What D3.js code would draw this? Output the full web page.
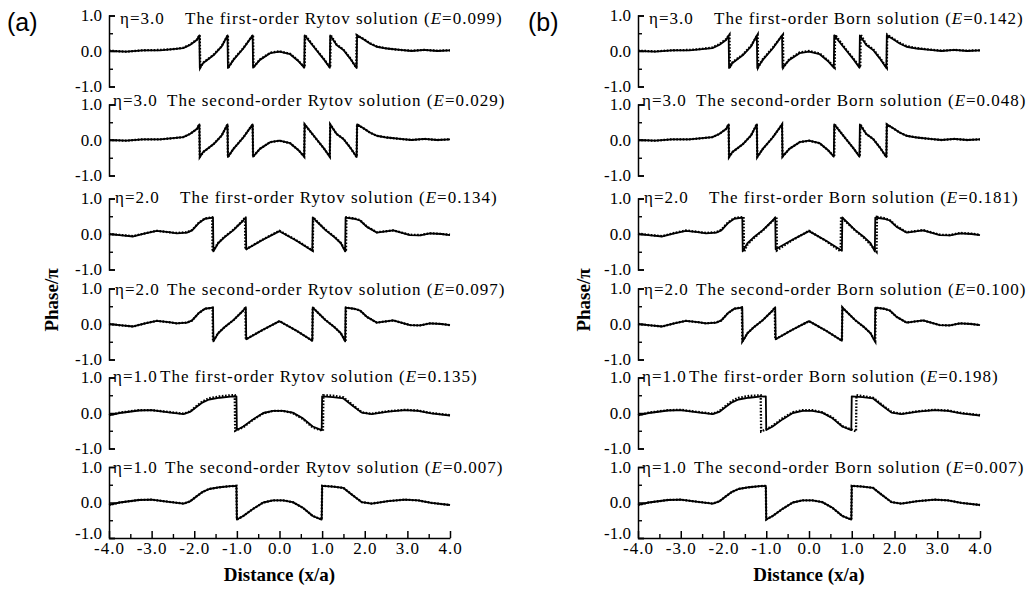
<!DOCTYPE html>
<html>
<head>
<meta charset="utf-8">
<script src="https://cdn.jsdelivr.net/npm/d3@7"></script>
<style>
  body { margin: 0; background: #fff; }
  svg { display: block; }
  text { font-family: "Liberation Serif", "Times New Roman", serif; fill: #000; }
</style>
</head>
<body>
<svg id="chart" width="1033" height="591"></svg>
<script>
// ---- Row descriptors -------------------------------------------------------
const etaValues   = ["3.0", "3.0", "2.0", "2.0", "1.0", "1.0"];
const orderNames  = ["first", "second", "first", "second", "first", "second"];
const rytovErrors = [0.099, 0.029, 0.134, 0.097, 0.135, 0.007];
const bornErrors  = [0.142, 0.048, 0.181, 0.100, 0.198, 0.007];

// ---- Axis ticks ------------------------------------------------------------
const xTicks      = [-4, -3, -2, -1, 0, 1, 2, 3, 4];
const xMinorTicks = [-3.5, -2.5, -1.5, -0.5, 0.5, 1.5, 2.5, 3.5];
const yTicks      = [-1, 0, 1];
const yMinorTicks = [-0.5, 0.5];

// ---- Exact wrapped phase (phase/pi) vs x/a, one profile per eta -------------
const exactEta3 = [[-4.0,0.0],[-3.6,-0.02],[-3.2,0.02],[-2.8,0.02],[-2.5,0.05],[-2.26,0.08],[-2.1,0.17],[-1.94,0.31],[-1.88,0.44],[-1.87,-0.48],[-1.79,-0.34],[-1.55,-0.12],[-1.36,0.12],[-1.22,0.44],[-1.21,-0.48],[-1.08,-0.25],[-0.85,0.07],[-0.63,0.44],[-0.62,-0.47],[-0.46,-0.25],[-0.22,-0.06],[0.0,-0.02],[0.25,-0.09],[0.44,-0.28],[0.58,-0.47],[0.59,0.44],[0.85,0.05],[1.05,-0.25],[1.18,-0.47],[1.19,0.44],[1.34,0.17],[1.5,0.03],[1.65,-0.2],[1.81,-0.48],[1.82,0.44],[1.97,0.33],[2.12,0.21],[2.28,0.12],[2.52,0.07],[2.83,0.03],[3.1,0.0],[3.4,0.03],[3.7,0.0],[4.0,0.02]];
const exactEta2 = [[-4.0,0.0],[-3.7,-0.04],[-3.43,-0.07],[-3.15,0.02],[-2.88,0.09],[-2.6,0.05],[-2.41,0.02],[-2.17,0.04],[-2.05,0.1],[-1.9,0.3],[-1.75,0.43],[-1.56,0.46],[-1.55,-0.49],[-1.44,-0.26],[-1.3,-0.1],[-1.08,0.11],[-0.85,0.38],[-0.79,0.47],[-0.78,-0.43],[-0.4,-0.17],[0.0,0.08],[0.4,-0.19],[0.77,-0.47],[0.78,0.47],[0.85,0.38],[1.08,0.11],[1.3,-0.1],[1.44,-0.26],[1.54,-0.49],[1.55,0.46],[1.75,0.43],[1.89,0.38],[2.05,0.2],[2.28,0.04],[2.67,0.1],[3.06,-0.03],[3.3,-0.04],[3.53,0.02],[3.8,0.0],[4.0,-0.03]];
const exactEta1 = [[-4.0,-0.07],[-3.75,0.0],[-3.3,0.07],[-3.0,0.08],[-2.6,0.02],[-2.25,-0.03],[-2.1,0.03],[-1.95,0.17],[-1.8,0.3],[-1.65,0.38],[-1.4,0.43],[-1.15,0.46],[-1.01,0.47],[-1.0,-0.48],[-0.85,-0.38],[-0.62,-0.18],[-0.38,0.0],[-0.15,0.06],[0.08,0.06],[0.31,0.01],[0.55,-0.15],[0.78,-0.38],[0.99,-0.48],[1.0,0.47],[1.25,0.45],[1.5,0.41],[1.7,0.22],[1.93,0.01],[2.16,-0.03],[2.55,0.04],[2.94,0.08],[3.25,0.06],[3.56,-0.01],[4.0,-0.07]];

// ---- Rytov approximations ----------------------------------------------------
const rytov1Eta3 = [[-4.0,0.01],[-3.6,-0.02],[-3.2,0.02],[-2.8,0.03],[-2.5,0.05],[-2.26,0.09],[-2.1,0.18],[-1.94,0.32],[-1.87,0.45],[-1.86,-0.47],[-1.79,-0.33],[-1.55,-0.11],[-1.36,0.13],[-1.21,0.45],[-1.20,-0.47],[-1.08,-0.24],[-0.85,0.08],[-0.62,0.45],[-0.61,-0.46],[-0.46,-0.24],[-0.22,-0.05],[0.0,-0.01],[0.25,-0.08],[0.44,-0.27],[0.59,-0.47],[0.60,0.45],[0.85,0.06],[1.05,-0.24],[1.19,-0.47],[1.20,0.45],[1.34,0.18],[1.5,0.04],[1.65,-0.19],[1.80,-0.47],[1.81,0.45],[1.97,0.34],[2.12,0.22],[2.28,0.13],[2.52,0.07],[2.83,0.03],[3.1,0.01],[3.4,0.03],[3.7,0.01],[4.0,0.02]];
const rytov2Eta3 = [[-4.0,0.0],[-3.6,-0.02],[-3.2,0.02],[-2.8,0.02],[-2.5,0.05],[-2.26,0.08],[-2.1,0.17],[-1.94,0.31],[-1.88,0.44],[-1.87,-0.48],[-1.79,-0.34],[-1.55,-0.12],[-1.36,0.12],[-1.22,0.44],[-1.21,-0.48],[-1.08,-0.25],[-0.85,0.07],[-0.63,0.44],[-0.62,-0.47],[-0.46,-0.25],[-0.22,-0.06],[0.0,-0.02],[0.25,-0.09],[0.44,-0.28],[0.58,-0.47],[0.59,0.44],[0.85,0.05],[1.05,-0.25],[1.18,-0.47],[1.19,0.44],[1.34,0.17],[1.5,0.03],[1.65,-0.2],[1.81,-0.48],[1.82,0.44],[1.97,0.33],[2.12,0.21],[2.28,0.12],[2.52,0.07],[2.83,0.03],[3.1,0.0],[3.4,0.03],[3.7,0.0],[4.0,0.02]];
const rytov1Eta2 = [[-4.0,0.0],[-3.7,-0.03],[-3.43,-0.06],[-3.15,0.02],[-2.88,0.09],[-2.6,0.05],[-2.41,0.03],[-2.17,0.05],[-2.05,0.11],[-1.9,0.31],[-1.75,0.44],[-1.58,0.47],[-1.57,-0.5],[-1.44,-0.25],[-1.3,-0.09],[-1.08,0.12],[-0.85,0.39],[-0.81,0.47],[-0.80,-0.44],[-0.4,-0.16],[0.0,0.09],[0.4,-0.18],[0.78,-0.47],[0.79,0.47],[0.85,0.39],[1.08,0.12],[1.3,-0.09],[1.44,-0.25],[1.56,-0.5],[1.57,0.47],[1.75,0.44],[1.89,0.39],[2.05,0.21],[2.28,0.05],[2.67,0.1],[3.06,-0.02],[3.3,-0.03],[3.53,0.02],[3.8,0.0],[4.0,-0.02]];
const rytov2Eta2 = [[-4.0,0.0],[-3.7,-0.04],[-3.43,-0.07],[-3.15,0.02],[-2.88,0.09],[-2.6,0.05],[-2.41,0.02],[-2.17,0.04],[-2.05,0.1],[-1.9,0.3],[-1.75,0.43],[-1.57,0.46],[-1.56,-0.49],[-1.44,-0.26],[-1.3,-0.1],[-1.08,0.11],[-0.85,0.38],[-0.80,0.47],[-0.79,-0.43],[-0.4,-0.17],[0.0,0.08],[0.4,-0.19],[0.77,-0.47],[0.78,0.47],[0.85,0.38],[1.08,0.11],[1.3,-0.1],[1.44,-0.26],[1.55,-0.49],[1.56,0.46],[1.75,0.43],[1.89,0.38],[2.05,0.2],[2.28,0.04],[2.67,0.1],[3.06,-0.03],[3.3,-0.04],[3.53,0.02],[3.8,0.0],[4.0,-0.03]];
const rytov1Eta1 = [[-4.0,-0.06],[-3.75,0.01],[-3.3,0.08],[-3.0,0.08],[-2.6,0.03],[-2.25,-0.02],[-2.1,0.04],[-1.95,0.19],[-1.8,0.33],[-1.65,0.42],[-1.4,0.47],[-1.15,0.5],[-1.05,0.5],[-1.04,-0.5],[-0.85,-0.4],[-0.62,-0.19],[-0.38,-0.01],[-0.15,0.06],[0.08,0.06],[0.31,0.0],[0.55,-0.17],[0.78,-0.41],[1.02,-0.5],[1.03,0.5],[1.25,0.49],[1.5,0.44],[1.7,0.24],[1.93,0.02],[2.16,-0.02],[2.55,0.05],[2.94,0.09],[3.25,0.07],[3.56,0.0],[4.0,-0.06]];
const rytov2Eta1 = [[-4.0,-0.07],[-3.75,0.0],[-3.3,0.07],[-3.0,0.08],[-2.6,0.02],[-2.25,-0.03],[-2.1,0.03],[-1.95,0.17],[-1.8,0.3],[-1.65,0.38],[-1.4,0.43],[-1.15,0.46],[-1.01,0.47],[-1.0,-0.48],[-0.85,-0.38],[-0.62,-0.18],[-0.38,0.0],[-0.15,0.06],[0.08,0.06],[0.31,0.01],[0.55,-0.15],[0.78,-0.38],[0.99,-0.48],[1.0,0.47],[1.25,0.45],[1.5,0.41],[1.7,0.22],[1.93,0.01],[2.16,-0.03],[2.55,0.04],[2.94,0.08],[3.25,0.06],[3.56,-0.01],[4.0,-0.07]];

// ---- Born approximations -----------------------------------------------------
const born1Eta3 = [[-4.0,0.01],[-3.6,-0.01],[-3.2,0.02],[-2.8,0.03],[-2.5,0.06],[-2.26,0.1],[-2.1,0.19],[-1.94,0.33],[-1.86,0.46],[-1.85,-0.47],[-1.79,-0.32],[-1.55,-0.1],[-1.36,0.14],[-1.20,0.46],[-1.19,-0.46],[-1.08,-0.23],[-0.85,0.09],[-0.61,0.46],[-0.60,-0.46],[-0.46,-0.23],[-0.22,-0.04],[0.0,0.0],[0.25,-0.07],[0.44,-0.26],[0.60,-0.47],[0.61,0.46],[0.85,0.07],[1.05,-0.23],[1.20,-0.47],[1.21,0.46],[1.34,0.19],[1.5,0.05],[1.65,-0.18],[1.82,-0.47],[1.83,0.46],[1.97,0.35],[2.12,0.23],[2.28,0.14],[2.52,0.08],[2.83,0.04],[3.1,0.01],[3.4,0.03],[3.7,0.01],[4.0,0.02]];
const born2Eta3 = [[-4.0,0.0],[-3.6,-0.02],[-3.2,0.02],[-2.8,0.02],[-2.5,0.05],[-2.26,0.08],[-2.1,0.17],[-1.94,0.31],[-1.88,0.44],[-1.87,-0.48],[-1.79,-0.34],[-1.55,-0.12],[-1.36,0.12],[-1.22,0.45],[-1.21,-0.48],[-1.08,-0.25],[-0.85,0.07],[-0.63,0.44],[-0.62,-0.47],[-0.46,-0.25],[-0.22,-0.06],[0.0,-0.02],[0.25,-0.09],[0.44,-0.28],[0.59,-0.47],[0.60,0.44],[0.85,0.05],[1.05,-0.25],[1.19,-0.47],[1.20,0.44],[1.34,0.17],[1.5,0.03],[1.65,-0.2],[1.81,-0.48],[1.82,0.44],[1.97,0.33],[2.12,0.21],[2.28,0.12],[2.52,0.07],[2.83,0.03],[3.1,0.0],[3.4,0.03],[3.7,0.0],[4.0,0.02]];
const born1Eta2 = [[-4.0,0.01],[-3.7,-0.03],[-3.43,-0.06],[-3.15,0.03],[-2.88,0.1],[-2.6,0.06],[-2.41,0.03],[-2.17,0.05],[-2.05,0.12],[-1.9,0.32],[-1.75,0.45],[-1.53,0.48],[-1.52,-0.5],[-1.44,-0.3],[-1.3,-0.12],[-1.08,0.1],[-0.85,0.37],[-0.76,0.48],[-0.75,-0.46],[-0.4,-0.18],[0.0,0.09],[0.4,-0.2],[0.74,-0.49],[0.75,0.48],[0.85,0.36],[1.08,0.1],[1.3,-0.12],[1.44,-0.3],[1.58,-0.5],[1.59,0.48],[1.75,0.45],[1.89,0.39],[2.05,0.22],[2.28,0.05],[2.67,0.11],[3.06,-0.02],[3.3,-0.03],[3.53,0.03],[3.8,0.01],[4.0,-0.02]];
const born2Eta2 = [[-4.0,0.0],[-3.7,-0.04],[-3.43,-0.07],[-3.15,0.02],[-2.88,0.09],[-2.6,0.05],[-2.41,0.02],[-2.17,0.04],[-2.05,0.1],[-1.9,0.3],[-1.75,0.43],[-1.57,0.47],[-1.56,-0.49],[-1.44,-0.26],[-1.3,-0.1],[-1.08,0.11],[-0.85,0.38],[-0.80,0.47],[-0.79,-0.43],[-0.4,-0.17],[0.0,0.08],[0.4,-0.19],[0.77,-0.47],[0.78,0.47],[0.85,0.38],[1.08,0.11],[1.3,-0.1],[1.44,-0.26],[1.55,-0.49],[1.56,0.46],[1.75,0.43],[1.89,0.38],[2.05,0.2],[2.28,0.04],[2.67,0.1],[3.06,-0.03],[3.3,-0.04],[3.53,0.02],[3.8,0.0],[4.0,-0.03]];
const born1Eta1 = [[-4.0,-0.06],[-3.75,0.01],[-3.3,0.08],[-3.0,0.09],[-2.6,0.03],[-2.25,-0.02],[-2.1,0.05],[-1.95,0.2],[-1.8,0.34],[-1.65,0.43],[-1.4,0.48],[-1.13,0.5],[-1.12,-0.52],[-1.0,-0.46],[-0.85,-0.36],[-0.62,-0.15],[-0.38,0.02],[-0.15,0.08],[0.08,0.08],[0.31,0.02],[0.55,-0.13],[0.78,-0.37],[1.0,-0.47],[1.10,-0.52],[1.11,0.5],[1.25,0.48],[1.5,0.43],[1.7,0.24],[1.93,0.03],[2.16,-0.02],[2.55,0.05],[2.94,0.09],[3.25,0.07],[3.56,0.0],[4.0,-0.06]];
const born2Eta1 = [[-4.0,-0.07],[-3.75,0.0],[-3.3,0.07],[-3.0,0.08],[-2.6,0.02],[-2.25,-0.03],[-2.1,0.03],[-1.95,0.17],[-1.8,0.3],[-1.65,0.38],[-1.4,0.43],[-1.15,0.46],[-1.01,0.47],[-1.0,-0.48],[-0.85,-0.38],[-0.62,-0.18],[-0.38,0.0],[-0.15,0.06],[0.08,0.06],[0.31,0.01],[0.55,-0.15],[0.78,-0.38],[0.99,-0.48],[1.0,0.47],[1.25,0.45],[1.5,0.41],[1.7,0.22],[1.93,0.01],[2.16,-0.03],[2.55,0.04],[2.94,0.08],[3.25,0.06],[3.56,-0.01],[4.0,-0.07]];

const exactRows = [exactEta3, exactEta3, exactEta2, exactEta2, exactEta1, exactEta1];

// ---- Layout ------------------------------------------------------------------
const svg = d3.select("#chart");
const rowCenters = [51, 140, 234, 324, 413, 502.5];
const rowHalf = 35.5;
const etaDx   = [11, 4, 6, 6, 4, 4];
const descDx  = [76, 58, 71, 58, 51, 56];
const titleDy = [8.5, 1.5, 4.5, 6.5, 4.5, 5.5];

const panels = [
  { tag: "(a)", tagX: 7,   method: "Rytov", errors: rytovErrors,
    approx: [rytov1Eta3, rytov2Eta3, rytov1Eta2, rytov2Eta2, rytov1Eta1, rytov2Eta1],
    x0: 109, x1: 450, yLabelX: 58 },
  { tag: "(b)", tagX: 528, method: "Born", errors: bornErrors,
    approx: [born1Eta3, born2Eta3, born1Eta2, born2Eta2, born1Eta1, born2Eta1],
    x0: 638, x1: 980, yLabelX: 590 }
];

const fmt1 = d => d.toFixed(1);
const lastRow = rowCenters.length - 1;

panels.forEach(p => {
  const g = svg.append("g");
  const x = d3.scaleLinear().domain([-4, 4]).range([p.x0, p.x1]);

  // panel tag
  g.append("text").attr("x", p.tagX).attr("y", 31)
    .style("font-family", "'Liberation Sans', Arial, sans-serif")
    .style("font-size", "25px").text(p.tag);

  // y title
  g.append("text")
    .attr("transform", `translate(${p.yLabelX},300) rotate(-90)`)
    .attr("text-anchor", "middle")
    .style("font-size", "19px").style("font-weight", "bold")
    .text("Phase/\u03c0");

  rowCenters.forEach((c, i) => {
    const y = d3.scaleLinear().domain([-1, 1]).range([c + rowHalf, c - rowHalf]);
    const row = g.append("g");

    // bracket-style left axis with inward ticks
    row.append("g").attr("transform", `translate(${p.x0},0)`)
      .call(d3.axisRight(y).tickValues(yTicks).tickSize(6).tickSizeOuter(6).tickFormat(""))
      .call(a => a.selectAll("path,line").attr("stroke", "#000").attr("stroke-width", 1.5));
    row.append("g").attr("transform", `translate(${p.x0},0)`)
      .call(d3.axisRight(y).tickValues(yMinorTicks).tickSize(4).tickFormat(""))
      .call(a => a.select(".domain").remove())
      .call(a => a.selectAll("line").attr("stroke", "#000").attr("stroke-width", 1.4));
    row.append("g").attr("transform", `translate(${p.x0},0)`)
      .call(d3.axisLeft(y).tickValues(yTicks).tickSize(0).tickPadding(7).tickFormat(fmt1))
      .call(a => a.select(".domain").remove())
      .call(a => a.selectAll("text").style("font-family", "'Liberation Serif', serif")
        .style("font-size", "17px").attr("fill", "#000")
        .attr("dy", d => (i === lastRow && d === -1) ? "0.05em" : "0.32em"));

    // bottom row carries the distance axis
    if (i === lastRow) {
      const yb = y(-1);
      row.append("g").attr("transform", `translate(0,${yb})`)
        .call(d3.axisTop(x).tickValues(xTicks).tickSize(7).tickSizeOuter(0).tickFormat(""))
        .call(a => a.selectAll("path,line").attr("stroke", "#000").attr("stroke-width", 1.5));
      row.append("g").attr("transform", `translate(0,${yb})`)
        .call(d3.axisTop(x).tickValues(xMinorTicks).tickSize(4).tickFormat(""))
        .call(a => a.select(".domain").remove())
        .call(a => a.selectAll("line").attr("stroke", "#000").attr("stroke-width", 1.4));
      row.append("g").attr("transform", `translate(0,${yb})`)
        .call(d3.axisBottom(x).tickValues(xTicks).tickSize(0).tickPadding(4).tickFormat(fmt1))
        .call(a => a.select(".domain").remove())
        .call(a => a.selectAll("text").style("font-family", "'Liberation Serif', serif")
          .style("font-size", "17px").style("letter-spacing", "1px").attr("fill", "#000"));
      g.append("text")
        .attr("x", (p.x0 + p.x1) / 2).attr("y", 581)
        .attr("text-anchor", "middle")
        .style("font-size", "19px").style("font-weight", "bold")
        .text("Distance (x/a)");
    }

    // title line
    const ty = c - rowHalf + titleDy[i];
    row.append("text").attr("x", p.x0 + etaDx[i]).attr("y", ty)
      .style("font-size", "17px").style("letter-spacing", "1px")
      .text(`\u03b7=${etaValues[i]}`);
    const desc = row.append("text").attr("x", p.x0 + descDx[i]).attr("y", ty)
      .style("font-size", "17px").style("letter-spacing", "1px");
    desc.append("tspan").text(`The ${orderNames[i]}-order ${p.method} solution (`);
    desc.append("tspan").style("font-style", "italic").text("E");
    desc.append("tspan").text(`=${p.errors[i].toFixed(3)})`);

    // curves: exact (solid) and approximation (dotted)
    const line = d3.line().x(d => x(d[0])).y(d => y(d[1]));
    row.append("path").datum(exactRows[i]).attr("d", line)
      .attr("fill", "none").attr("stroke", "#000").attr("stroke-width", 1.8)
      .attr("stroke-linejoin", "round");
    row.append("path").datum(p.approx[i]).attr("d", line)
      .attr("fill", "none").attr("stroke", "#000").attr("stroke-width", 2.3)
      .attr("stroke-dasharray", "1.6,1.6");
  });
});
</script>
</body>
</html>
